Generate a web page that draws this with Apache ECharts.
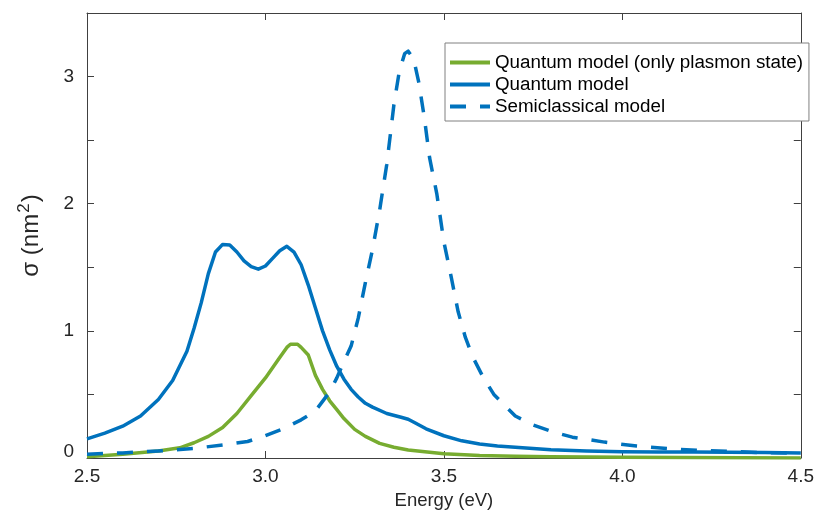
<!DOCTYPE html>
<html>
<head>
<meta charset="utf-8">
<script src="https://cdn.jsdelivr.net/npm/echarts@6/dist/echarts.min.js"></script>
<style>
  html, body { margin: 0; padding: 0; background: #fff; }
  #chart { width: 817px; height: 515px; }
</style>
</head>
<body>
<div id="chart"></div>
<script>
// 数据：能量 (eV) 与截面 (nm^2)
var xTicks = [2.5, 3.0, 3.5, 4.0, 4.5];
var yTickLabels = ['0', '1', '2', '3'];

// Quantum model (only plasmon state)
var plasmonE = [2.50, 2.60, 2.70, 2.76, 2.80, 2.84, 2.88, 2.92, 2.96, 3.00, 3.02, 3.04, 3.06, 3.07, 3.09, 3.10,
  3.12, 3.14, 3.16, 3.18, 3.20, 3.22, 3.25, 3.28, 3.32, 3.36, 3.40, 3.50, 3.60, 3.70, 3.80, 4.00, 4.50];
var plasmonS = [0.01, 0.03, 0.055, 0.08, 0.12, 0.17, 0.24, 0.35, 0.49, 0.63, 0.71, 0.79, 0.87, 0.895, 0.895, 0.87,
  0.81, 0.65, 0.54, 0.45, 0.38, 0.31, 0.225, 0.17, 0.115, 0.085, 0.063, 0.034, 0.02, 0.013, 0.009, 0.005, 0.0];

// Quantum model
var quantumE = [2.50, 2.55, 2.60, 2.65, 2.70, 2.74, 2.78, 2.80, 2.82, 2.84, 2.86, 2.88, 2.90, 2.92, 2.94, 2.96, 2.98,
  3.00, 3.02, 3.04, 3.06, 3.08, 3.10, 3.12, 3.14, 3.16, 3.18, 3.20, 3.22, 3.24, 3.26, 3.28, 3.30, 3.34, 3.38, 3.40,
  3.42, 3.45, 3.50, 3.55, 3.60, 3.65, 3.70, 3.80, 3.90, 4.00, 4.10, 4.20, 4.30, 4.40, 4.50];
var quantumS = [0.15, 0.195, 0.25, 0.33, 0.46, 0.61, 0.84, 1.02, 1.22, 1.45, 1.62, 1.68, 1.675, 1.62, 1.55, 1.505, 1.485,
  1.51, 1.57, 1.63, 1.665, 1.62, 1.52, 1.36, 1.18, 1.00, 0.85, 0.72, 0.62, 0.54, 0.48, 0.43, 0.40, 0.35, 0.32, 0.305,
  0.275, 0.23, 0.175, 0.135, 0.11, 0.095, 0.085, 0.065, 0.055, 0.05, 0.048, 0.047, 0.045, 0.043, 0.04];

// Semiclassical model
var semiE = [2.50, 2.60, 2.70, 2.80, 2.90, 2.95, 3.00, 3.05, 3.10, 3.14, 3.18, 3.20, 3.22, 3.24, 3.26, 3.28, 3.30,
  3.32, 3.34, 3.36, 3.375, 3.39, 3.40, 3.415, 3.43, 3.445, 3.46, 3.48, 3.50, 3.52, 3.54, 3.56, 3.58, 3.61, 3.64,
  3.70, 3.75, 3.80, 3.86, 3.95, 4.04, 4.13, 4.21, 4.30, 4.40, 4.50];
var semiS = [0.03, 0.04, 0.055, 0.075, 0.11, 0.13, 0.175, 0.23, 0.30, 0.37, 0.52, 0.63, 0.76, 0.88, 1.10, 1.38, 1.64,
  1.95, 2.31, 2.78, 3.04, 3.18, 3.20, 3.14, 2.95, 2.68, 2.36, 2.08, 1.70, 1.43, 1.15, 0.95, 0.80, 0.635, 0.50,
  0.33, 0.26, 0.21, 0.164, 0.125, 0.094, 0.073, 0.06, 0.052, 0.041, 0.038];

function pairs (xs, ys) {
  var out = [];
  for (var i = 0; i < xs.length; i++) out.push([xs[i], ys[i]]);
  return out;
}

var axisColor = '#404040';
var textColor = '#262626';
var fontFamily = 'Liberation Sans, Arial, sans-serif';

var option = {
  animation: false,
  backgroundColor: '#fff',
  grid: { left: 87, right: 9, top: 13, bottom: 56, show: false },
  legend: {
    orient: 'vertical',
    left: 445,
    top: 43,
    padding: [10, 6, 5, 3],
    itemWidth: 40,
    itemHeight: 14,
    itemGap: 3,
    backgroundColor: '#fff',
    borderColor: '#808080',
    borderWidth: 1,
    itemStyle: { opacity: 0 },
    lineStyle: { width: 4 },
    textStyle: { fontSize: 18.8, color: '#000', fontFamily: fontFamily, lineHeight: 19 },
    data: ['Quantum model (only plasmon state)', 'Quantum model', 'Semiclassical model']
  },
  xAxis: [{
    type: 'value',
    min: 2.5,
    max: 4.5,
    interval: 0.5,
    name: 'Energy (eV)',
    nameLocation: 'middle',
    nameGap: 33,
    nameTextStyle: { fontSize: 18.5, color: textColor, fontFamily: fontFamily },
    axisLine: { onZero: false, lineStyle: { color: axisColor, width: 1 } },
    axisTick: { inside: true, length: 7, lineStyle: { color: axisColor } },
    axisLabel: {
      fontSize: 19, color: textColor, fontFamily: fontFamily, margin: 9,
      formatter: function (v) { return xTicks.indexOf(v) >= 0 ? v.toFixed(1) : ''; }
    },
    splitLine: { show: false }
  }, {
    type: 'value',
    position: 'top',
    min: 2.5,
    max: 4.5,
    interval: 0.5,
    axisLine: { onZero: false, lineStyle: { color: axisColor, width: 1 } },
    axisTick: { inside: true, length: 7, lineStyle: { color: axisColor } },
    axisLabel: { show: false },
    splitLine: { show: false }
  }],
  yAxis: [{
    type: 'value',
    min: 0,
    max: 3.5,
    interval: 0.5,
    name: '{a|σ (nm}{s|2}{a|)}',
    nameLocation: 'middle',
    nameGap: 40,
    nameRotate: 90,
    nameTextStyle: {
      rich: {
        a: { fontSize: 24, color: textColor, fontFamily: fontFamily },
        s: { fontSize: 17, color: textColor, fontFamily: fontFamily, verticalAlign: 'top', padding: [0, 1, 14, 1] }
      }
    },
    axisLine: { onZero: false, lineStyle: { color: axisColor, width: 1 } },
    axisTick: { inside: true, length: 7, lineStyle: { color: axisColor } },
    axisLabel: {
      fontSize: 19, color: textColor, fontFamily: fontFamily, margin: 13,
      formatter: function (v) {
        var s = String(v);
        if (yTickLabels.indexOf(s) < 0) return '';
        return s === '0' ? '{z|0}' : s;
      },
      rich: { z: { fontSize: 19, color: textColor, fontFamily: fontFamily, padding: [0, 0, 13, 0] } }
    },
    splitLine: { show: false }
  }, {
    type: 'value',
    position: 'right',
    min: 0,
    max: 3.5,
    interval: 0.5,
    axisLine: { onZero: false, lineStyle: { color: axisColor, width: 1 } },
    axisTick: { inside: true, length: 7, lineStyle: { color: axisColor } },
    axisLabel: { show: false },
    splitLine: { show: false }
  }],
  series: [{
    name: 'Quantum model (only plasmon state)',
    type: 'line',
    data: pairs(plasmonE, plasmonS),
    showSymbol: false,
    symbol: 'none',
    color: '#77AC30',
    lineStyle: { color: '#77AC30', width: 3.5, join: 'round' }
  }, {
    name: 'Quantum model',
    type: 'line',
    data: pairs(quantumE, quantumS),
    showSymbol: false,
    symbol: 'none',
    color: '#0072BD',
    lineStyle: { color: '#0072BD', width: 3.5, join: 'round' }
  }, {
    name: 'Semiclassical model',
    type: 'line',
    data: pairs(semiE, semiS),
    showSymbol: false,
    symbol: 'none',
    color: '#0072BD',
    lineStyle: { color: '#0072BD', width: 3.5, type: [16, 14], join: 'round' }
  }]
};

var myChart = echarts.init(document.getElementById('chart'), null, { renderer: 'canvas' });
myChart.setOption(option);
</script>
</body>
</html>
